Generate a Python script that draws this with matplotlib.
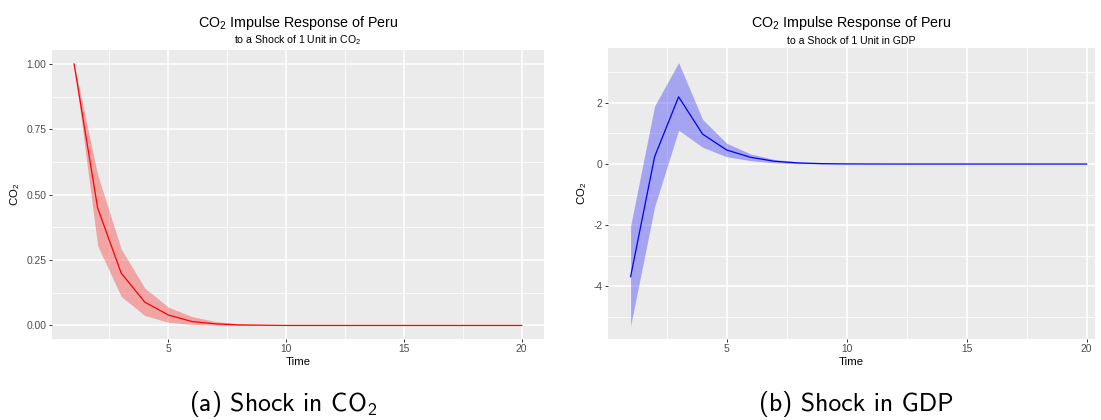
import numpy as np
import matplotlib
matplotlib.use("Agg")
import matplotlib.pyplot as plt
from matplotlib.ticker import FixedLocator

# Impulse response horizon
time = np.arange(1, 21)

# Response of CO2 to a 1-unit shock in CO2 (point estimate and bootstrap band)
co2_irf = [1.000, 0.449, 0.200, 0.089, 0.040, 0.015, 0.006, 0.002, 0.001, 0.000,
           0.000, 0.000, 0.000, 0.000, 0.000, 0.000, 0.000, 0.000, 0.000, 0.000]
co2_lower = [1.000, 0.305, 0.111, 0.038, 0.012, 0.004, 0.001, 0.000, 0.000, 0.000,
             0.000, 0.000, 0.000, 0.000, 0.000, 0.000, 0.000, 0.000, 0.000, 0.000]
co2_upper = [1.000, 0.576, 0.292, 0.143, 0.070, 0.034, 0.015, 0.006, 0.002, 0.001,
             0.000, 0.000, 0.000, 0.000, 0.000, 0.000, 0.000, 0.000, 0.000, 0.000]

# Response of CO2 to a 1-unit shock in GDP
gdp_irf = [-3.69, 0.24, 2.20, 0.98, 0.46, 0.22, 0.09, 0.035, 0.012, 0.004,
           0.001, 0.000, 0.000, 0.000, 0.000, 0.000, 0.000, 0.000, 0.000, 0.000]
gdp_lower = [-5.30, -1.40, 1.11, 0.55, 0.24, 0.11, 0.04, 0.010, 0.002, 0.000,
             0.000, 0.000, 0.000, 0.000, 0.000, 0.000, 0.000, 0.000, 0.000, 0.000]
gdp_upper = [-2.03, 1.90, 3.32, 1.46, 0.68, 0.33, 0.15, 0.07, 0.03, 0.010,
             0.004, 0.001, 0.000, 0.000, 0.000, 0.000, 0.000, 0.000, 0.000, 0.000]

x_major = [5, 10, 15, 20]
x_minor = [2.5, 7.5, 12.5, 17.5]
co2_major = [0.00, 0.25, 0.50, 0.75, 1.00]
co2_minor = [0.125, 0.375, 0.625, 0.875]
co2_ticklabels = ["0.00", "0.25", "0.50", "0.75", "1.00"]
gdp_major = [-4, -2, 0, 2]
gdp_minor = [-5, -3, -1, 1, 3]
gdp_ticklabels = ["-4", "-2", "0", "2"]

W, H = 1101, 420
fig = plt.figure(figsize=(W / 100, H / 100), dpi=100)
fig.patch.set_facecolor("white")

SANS = "Liberation Sans"
PANEL_BG = "#EBEBEB"


def px_axes(left, top, right, bottom):
    return fig.add_axes([left / W, (H - bottom) / H, (right - left) / W, (bottom - top) / H])


def style_panel(ax, yticks, yminor, ylabels):
    ax.set_facecolor(PANEL_BG)
    for s in ax.spines.values():
        s.set_visible(False)
    ax.xaxis.set_major_locator(FixedLocator(x_major))
    ax.xaxis.set_minor_locator(FixedLocator(x_minor))
    ax.yaxis.set_major_locator(FixedLocator(yticks))
    ax.yaxis.set_minor_locator(FixedLocator(yminor))
    ax.set_yticklabels(ylabels)
    ax.set_xticklabels([str(v) for v in x_major])
    ax.grid(which="major", color="white", linewidth=1.1)
    ax.grid(which="minor", color="white", linewidth=0.55)
    ax.set_axisbelow(True)
    ax.tick_params(which="major", length=2.2, width=0.7, color="#333333",
                   labelsize=7.4, labelcolor="#4D4D4D", pad=1.5)
    ax.tick_params(which="minor", length=0)
    for lab in ax.get_xticklabels() + ax.get_yticklabels():
        lab.set_family(SANS)
    ax.set_xlabel("Time", family=SANS, fontsize=8.2, labelpad=1.5)
    ax.set_ylabel(r"$\mathregular{CO_2}$", family=SANS, fontsize=8.2, labelpad=3)


def titles(center_px, subtitle):
    fig.text(center_px / W, 1 - 26.5 / H, r"$\mathregular{CO_2}$ Impulse Response of Peru",
             family=SANS, fontsize=10.3, ha="center", va="baseline")
    fig.text(center_px / W, 1 - 43.5 / H, subtitle,
             family=SANS, fontsize=7.6, ha="center", va="baseline")


# Left panel: shock in CO2
ax1 = px_axes(51.7, 50.0, 544.1, 339.3)
ax1.fill_between(time, co2_lower, co2_upper, color="red", alpha=0.3, linewidth=0)
ax1.plot(time, co2_irf, color="red", linewidth=0.9)
ax1.set_xlim(0.05, 20.95)
ax1.set_ylim(-0.053, 1.053)
style_panel(ax1, co2_major, co2_minor, co2_ticklabels)
titles((51.7 + 544.1) / 2, r"to a Shock of 1 Unit in $\mathregular{CO_2}$")

# Right panel: shock in GDP
ax2 = px_axes(607.8, 48.3, 1095.0, 339.3)
ax2.fill_between(time, gdp_lower, gdp_upper, color="blue", alpha=0.3, linewidth=0)
ax2.plot(time, gdp_irf, color="blue", linewidth=0.9)
ax2.set_xlim(0.05, 20.35)
ax2.set_ylim(-5.74, 3.79)
style_panel(ax2, gdp_major, gdp_minor, gdp_ticklabels)
titles((607.8 + 1095.0) / 2, "to a Shock of 1 Unit in GDP")

# Sub-figure captions
fig.text(283 / W, 1 - 411 / H, r"(a) Shock in $\mathregular{CO_2}$",
         family="cmss10", fontsize=18.5, ha="center", va="baseline")
fig.text(856 / W, 1 - 411 / H, "(b) Shock in GDP",
         family="cmss10", fontsize=18.5, ha="center", va="baseline")

fig.savefig("out.png", dpi=100)
